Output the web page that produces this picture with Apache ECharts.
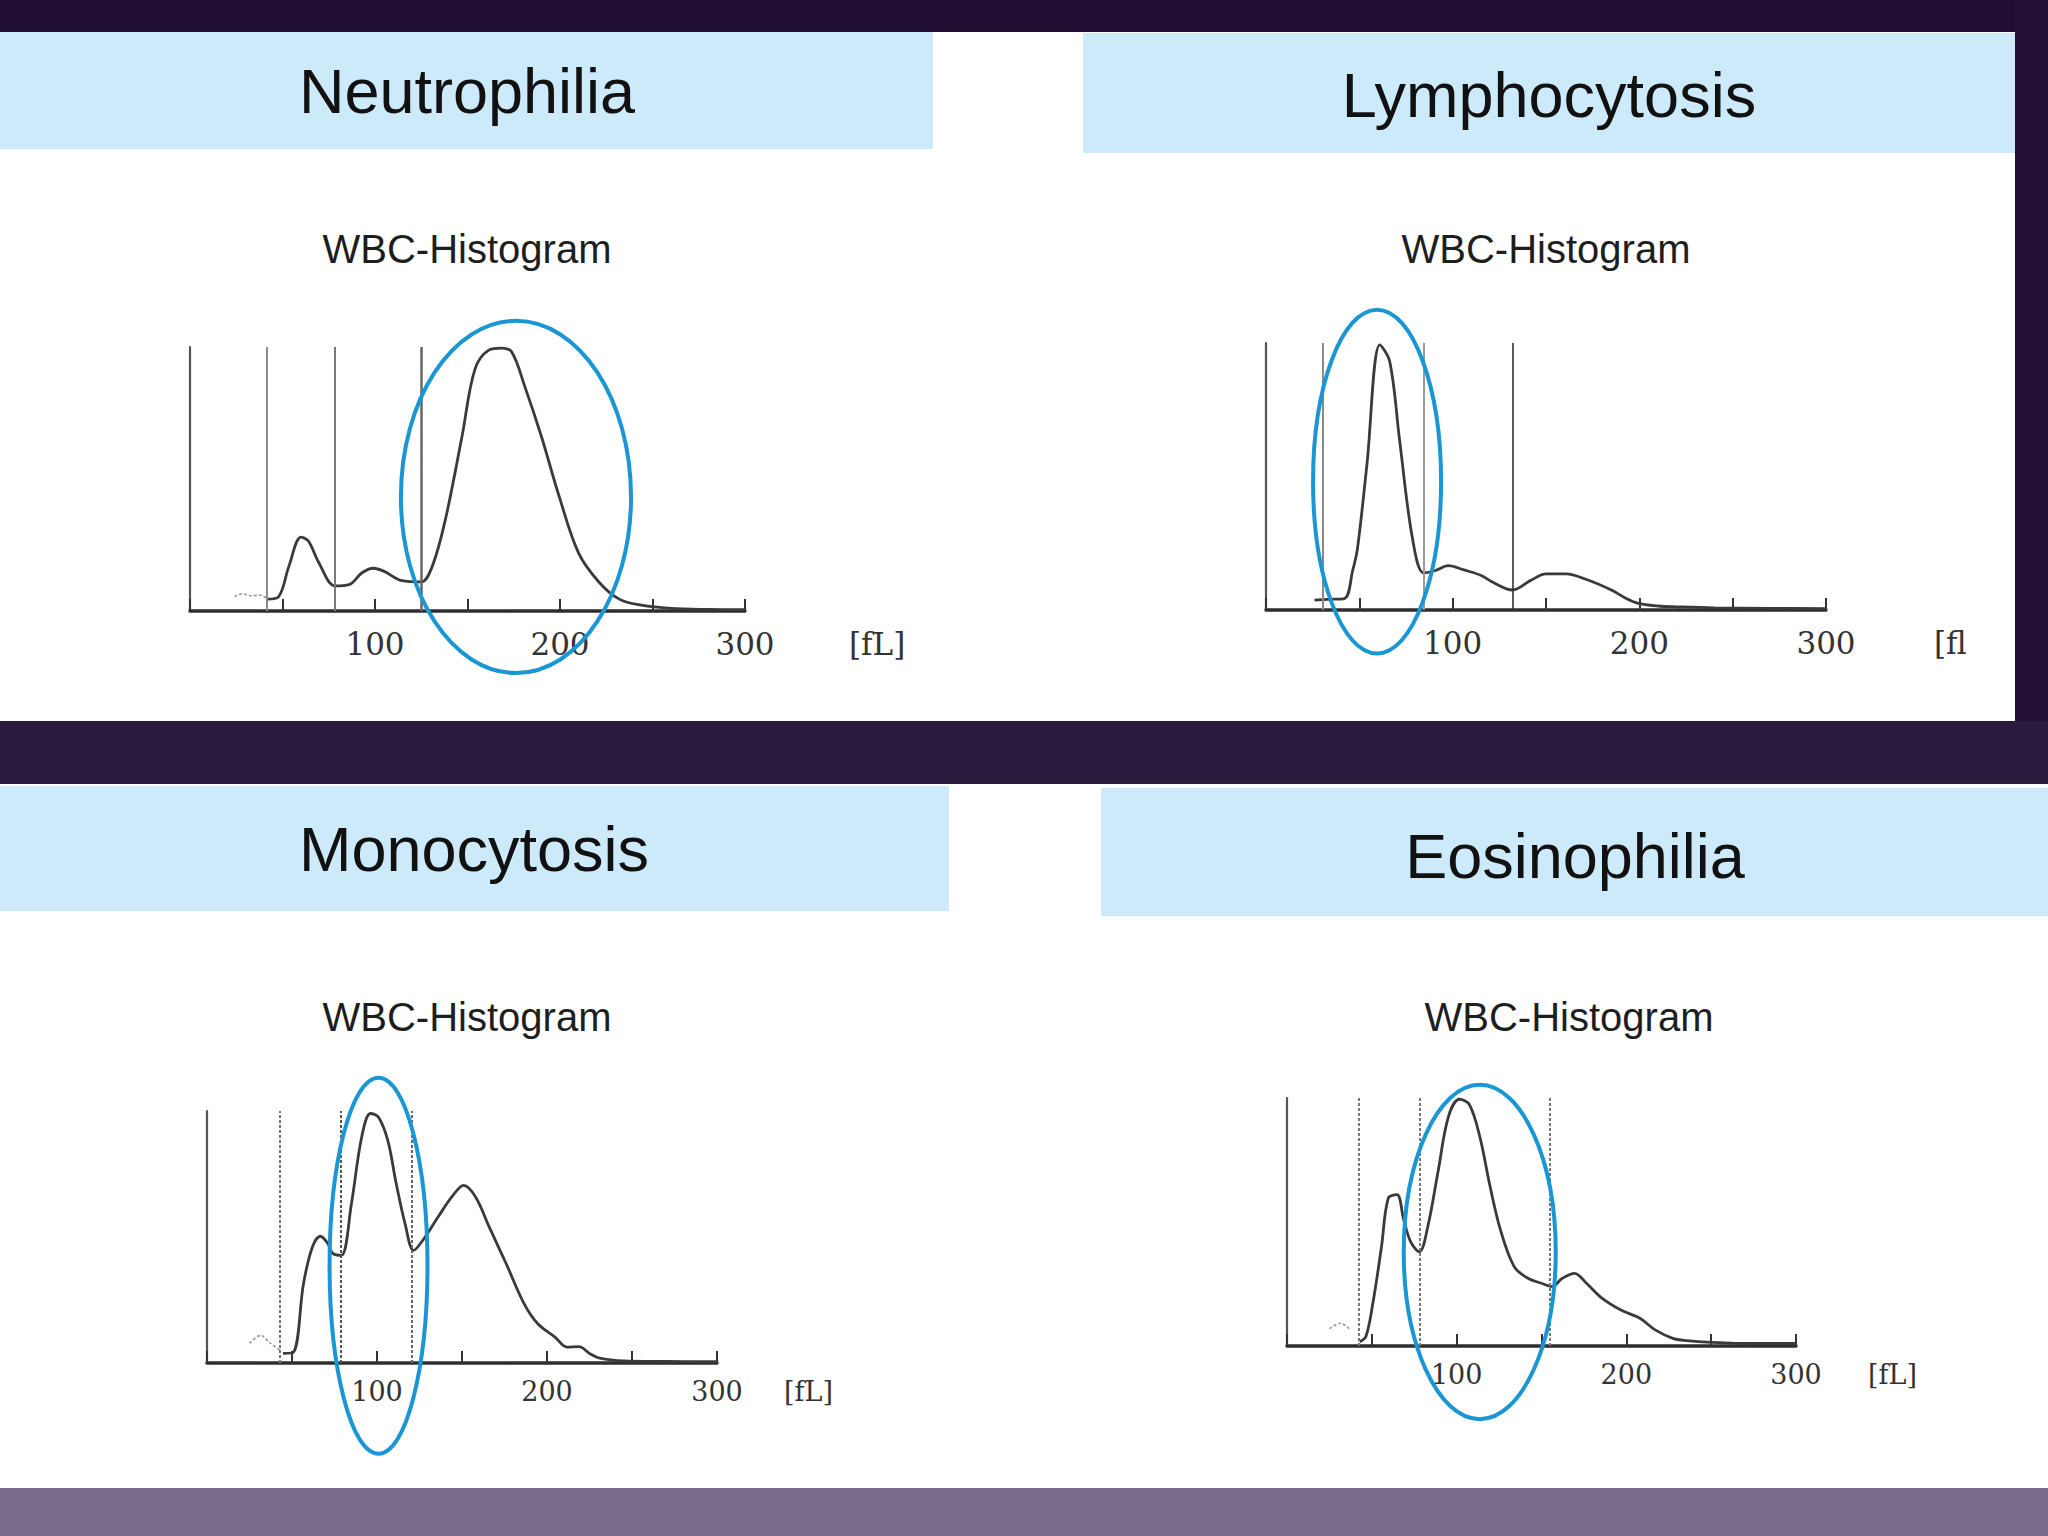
<!DOCTYPE html>
<html>
<head>
<meta charset="utf-8">
<script src="https://cdn.jsdelivr.net/npm/echarts@6/dist/echarts.min.js"></script>
<style>
html,body{margin:0;padding:0;background:#ffffff;}
#c{width:2048px;height:1536px;}
</style>
</head>
<body>
<div id="c"></div>
<script>
// ---------- DATA ----------
const panelTitles = ['Neutrophilia', 'Lymphocytosis', 'Monocytosis', 'Eosinophilia'];
const chartTitle = 'WBC-Histogram';
const tickLabels = ['100', '200', '300'];
const unitLabels = ['[fL]', '[fl', '[fL]', '[fL]'];

// Neutrophilia (volume fL, relative count %)
const neutroX = [42, 48, 53.5, 60, 64, 69.5, 78.5, 86, 93, 99, 105, 114.5, 125, 131, 138, 147, 154, 161.5, 168.5, 174, 181, 190, 199.5, 210, 221, 232, 244, 260, 280, 300];
const neutroY = [4.5, 5.5, 17, 28, 26.5, 18.5, 9.5, 10, 14.5, 16.2, 15, 11.5, 11, 17, 34.5, 66, 91.5, 98.8, 99.6, 98, 85, 66, 43.5, 22, 11, 4.5, 2.2, 1, 0.6, 0.5];
const neutroNoiseX = [24, 28, 33, 38, 42];
const neutroNoiseY = [5.5, 6.5, 5.8, 6, 4.5];
const neutroGates = [41.6, 78, 125];
const neutroRing = [176.2, 43.2, 62.2, 66.7]; // centre fL, centre %, half-width fL, half-height %

// Lymphocytosis
const lymphX = [26, 33, 42, 46.5, 49, 54, 61, 66.3, 71.6, 78.5, 84.5, 90.8, 97.7, 106, 115, 122, 132, 141.6, 150, 160.7, 171, 185, 192, 199, 210, 220, 240, 270, 300];
const lymphY = [3.7, 4, 4.3, 15, 23, 54, 99.3, 93, 63.4, 26.7, 13.9, 14.8, 16.6, 15, 13, 10.2, 7.5, 11, 13.5, 13.5, 11.6, 7.5, 4.7, 2.6, 1.5, 1.2, 0.8, 0.6, 0.5];
const lymphGates = [30.3, 84.5, 132.1];
const lymphRing = [59.5, 48.1, 34.3, 64.4];

// Monocytosis
const monoX = [44.7, 50.8, 56.8, 62, 66.7, 71, 74, 79, 85, 91, 96.2, 100.8, 106.3, 111.3, 116.5, 121.6, 127.7, 135.9, 144, 151, 158, 166, 176, 186.5, 194.6, 204.7, 211.8, 218.8, 225, 231, 245, 270, 300];
const monoY = [3.8, 4.2, 31.6, 46, 50.3, 47.5, 43.5, 42.7, 63.4, 89.7, 99, 97.6, 88.4, 71.2, 55.3, 44.7, 49.4, 57.9, 65.9, 70.5, 65.9, 54, 39.4, 23.6, 15.6, 10.3, 6.3, 6.5, 3.8, 1.9, 0.8, 0.6, 0.5];
const monoNoiseX = [25, 31.5, 37, 43];
const monoNoiseY = [7.8, 11, 8, 5];
const monoGates = [43, 78.7, 120.6];
const monoRing = [100.9, 38.6, 28.8, 74.6];

// Eosinophilia
const eosinoX = [42.8, 46.5, 50.6, 55.7, 59.7, 64.8, 68.8, 72.9, 78, 83, 89.2, 95.2, 101.7, 107.5, 113.6, 119.7, 125.8, 133.9, 142, 150, 156.3, 162.3, 169.5, 176.5, 185.6, 196.8, 208, 217, 227.4, 235.5, 250, 275, 300];
const eosinoY = [1.7, 3.8, 17.2, 40, 59.6, 61, 50.9, 42, 38, 48.2, 71, 92.6, 99.5, 97.3, 84.5, 64.3, 46.8, 32, 27.3, 25.3, 24, 27.3, 29.3, 25.3, 19.3, 14.5, 11.2, 6.5, 3.1, 2.2, 1.5, 1, 1];
const eosinoNoiseX = [25, 31.5, 36.6];
const eosinoNoiseY = [7, 9.2, 7];
const eosinoGates = [42.5, 78, 154.6];
const eosinoRing = [113.6, 37.9, 44.8, 67.4];

// ---------- LAYOUT / STYLE ----------
const panels = [
  { x: neutroX, y: neutroY, nx: neutroNoiseX, ny: neutroNoiseY, gates: neutroGates, ring: neutroRing },
  { x: lymphX, y: lymphY, nx: [], ny: [], gates: lymphGates, ring: lymphRing },
  { x: monoX, y: monoY, nx: monoNoiseX, ny: monoNoiseY, gates: monoGates, ring: monoRing },
  { x: eosinoX, y: eosinoY, nx: eosinoNoiseX, ny: eosinoNoiseY, gates: eosinoGates, ring: eosinoRing }
];

const layout = [
  { grid: {left: 190, top: 347, width: 555, height: 264}, fs: 31, gap: 104, margin: 17,
    band: [0, 32, 933, 117], head: [467, 91], sub: [467, 249],
    gateStyle: [{color:'#8a8a8a', width:2, type:'solid'}, {color:'#7a7a7a', width:2, type:'solid'}, {color:'#666', width:2.5, type:'solid'}] },
  { grid: {left: 1266, top: 343, width: 560, height: 267}, fs: 31, gap: 108, margin: 17,
    band: [1083, 33, 932, 120], head: [1549, 95], sub: [1546, 249],
    gateStyle: [{color:'#8a8a8a', width:2, type:'solid'}, {color:'#9a9a9a', width:2, type:'solid'}, {color:'#333', width:1.6, type:'solid'}] },
  { grid: {left: 207, top: 1111, width: 510, height: 252}, fs: 27, gap: 67, margin: 15,
    band: [0, 786, 949, 125], head: [474, 849], sub: [467, 1017],
    gateStyle: [{color:'#777', width:2, type:[3,2]}, {color:'#555', width:2, type:[3,2]}, {color:'#666', width:2, type:[3,2]}] },
  { grid: {left: 1287, top: 1098, width: 509, height: 248}, fs: 27, gap: 72, margin: 15,
    band: [1101, 788, 947, 128], head: [1575, 856], sub: [1569, 1017],
    gateStyle: [{color:'#777', width:2, type:[3,2]}, {color:'#777', width:2, type:[3,2]}, {color:'#777', width:2, type:[3,2]}] }
];

const chart = echarts.init(document.getElementById('c'), null, {renderer: 'svg', width: 2048, height: 1536});

const grids = [], xAxes = [], yAxes = [], series = [], graphics = [];

// page decoration
graphics.push({type:'rect', id:'bg', z:-20, shape:{x:0,y:0,width:2048,height:1536}, style:{fill:'#ffffff'}});
graphics.push({type:'rect', id:'topband', z:-10, shape:{x:0,y:0,width:2048,height:32}, style:{fill:'#200e33'}});
graphics.push({type:'rect', id:'rightcol', z:-10, shape:{x:2015,y:0,width:33,height:722}, style:{fill:'#221035'}});
graphics.push({type:'rect', id:'midband', z:-10, shape:{x:0,y:721,width:2048,height:63}, style:{fill:'#2a1a3e'}});
graphics.push({type:'rect', id:'botband', z:-10, shape:{x:0,y:1488,width:2048,height:48}, style:{fill:'#7b6c8b'}});

panels.forEach((p, i) => {
  const L = layout[i];
  grids.push(Object.assign({containLabel: false}, L.grid));
  xAxes.push({
    type: 'value', gridIndex: i, min: 0, max: 300, interval: 50,
    name: unitLabels[i], nameLocation: 'end', nameGap: L.gap,
    nameTextStyle: {fontFamily: 'DejaVu Serif', fontSize: L.fs, color: '#333', verticalAlign: 'top', padding: [L.margin, 0, 0, 0]},
    axisLine: {show: true, lineStyle: {color: '#2e2e2e', width: 3.5}},
    axisTick: {show: true, inside: true, length: 12, lineStyle: {color: '#333', width: 2}},
    axisLabel: {show: true, margin: L.margin, fontFamily: 'DejaVu Serif', fontSize: L.fs, color: '#333',
      formatter: v => tickLabels.indexOf(String(v)) >= 0 ? String(v) : ''},
    splitLine: {show: false}
  });
  yAxes.push({
    type: 'value', gridIndex: i, min: 0, max: 100,
    axisLine: {show: true, lineStyle: {color: '#555', width: 2.2}},
    axisTick: {show: false}, axisLabel: {show: false}, splitLine: {show: false}
  });
  series.push({
    type: 'line', xAxisIndex: i, yAxisIndex: i, smooth: 0.35, showSymbol: false, symbol: 'none',
    data: p.x.map((v, k) => [v, p.y[k]]),
    lineStyle: {color: '#3a3a3a', width: 2.8},
    z: 3,
    markLine: {
      silent: true, symbol: ['none', 'none'], label: {show: false}, animation: false,
      data: p.gates.map((g, k) => ({xAxis: g, lineStyle: L.gateStyle[k]}))
    }
  });
  if (p.nx.length) {
    series.push({
      type: 'line', xAxisIndex: i, yAxisIndex: i, smooth: 0.3, showSymbol: false, symbol: 'none',
      data: p.nx.map((v, k) => [v, p.ny[k]]),
      lineStyle: {color: '#9a9a9a', width: 1.6, type: [3, 2]}
    });
  }
  // header bands and texts
  graphics.push({type:'rect', id:'band'+i, z:-5, shape:{x:L.band[0], y:L.band[1], width:L.band[2], height:L.band[3]}, style:{fill:'#cdeafb'}});
  graphics.push({type:'text', id:'head'+i, z:5, x:L.head[0], y:L.head[1],
    style:{text: panelTitles[i], fill:'#111111', font:'63px "Liberation Sans", Arial, sans-serif', align:'center', verticalAlign:'middle', textAlign:'center', textVerticalAlign:'middle'}});
  graphics.push({type:'text', id:'sub'+i, z:5, x:L.sub[0], y:L.sub[1],
    style:{text: chartTitle, fill:'#1e1e1e', font:'40px "Liberation Sans", Arial, sans-serif', align:'center', verticalAlign:'middle', textAlign:'center', textVerticalAlign:'middle'}});
});

chart.setOption({
  animation: false,
  backgroundColor: 'transparent',
  grid: grids, xAxis: xAxes, yAxis: yAxes, series: series,
  graphic: {elements: graphics}
});

// highlight rings, placed through the axes' own scales
const rings = [];
panels.forEach((p, i) => {
  const r = p.ring;
  const c = chart.convertToPixel({gridIndex: i}, [r[0], r[1]]);
  const ex = chart.convertToPixel({gridIndex: i}, [r[0] + r[2], r[1]]);
  const ey = chart.convertToPixel({gridIndex: i}, [r[0], r[1] + r[3]]);
  rings.push({type:'ellipse', id:'ring'+i, z:50,
    shape:{cx:c[0], cy:c[1], rx:Math.abs(ex[0]-c[0]), ry:Math.abs(c[1]-ey[1])},
    style:{fill:'none', stroke:'#1b96d4', lineWidth:4}});
});
chart.setOption({graphic: {elements: rings}});
</script>
</body>
</html>
